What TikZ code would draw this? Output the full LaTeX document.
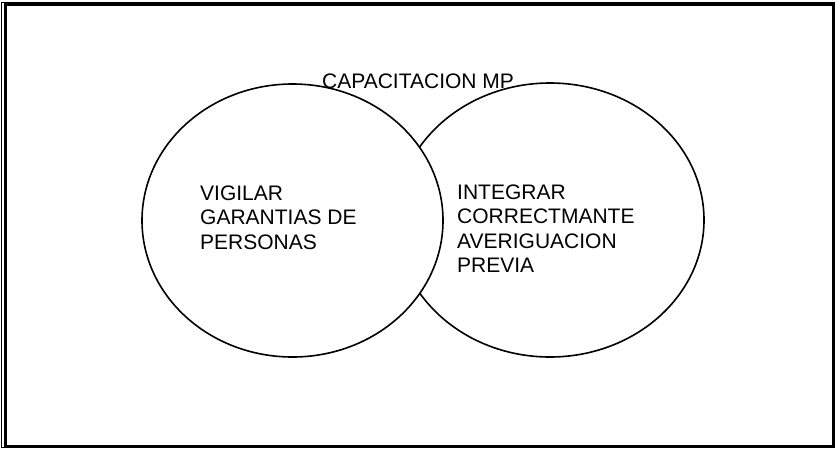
\documentclass[tikz,border=0pt]{standalone}
\usepackage{fontspec}
\setmainfont{Liberation Sans}
\usetikzlibrary{shapes.geometric}

\begin{document}
\begin{tikzpicture}[x=1pt,y=-1pt,
    circulo/.style={draw, ellipse, line width=1.6pt, fill=white, inner sep=0pt},
    texto/.style={anchor=north west, inner sep=0pt, align=left, font=\fontsize{21}{24.5}\selectfont}]
  \useasboundingbox (0,0) rectangle (835,448);
  % marco doble
  \draw[line width=1pt] (1.5,2) rectangle (834,447);
  \draw[line width=2.5pt] (5.5,4.5) rectangle (833,446.5);
  % circulos
  \node[circulo, minimum width=308pt, minimum height=274pt] (averiguacion) at (550,220) {};
  \node[circulo, minimum width=301pt, minimum height=273pt] (garantias) at (292.5,220.5) {};
  % textos
  \node[texto] (titulo) at (322,74) {CAPACITACION MP};
  \node[texto] (vigilar) at (200,185.5) {VIGILAR\\GARANTIAS DE\\PERSONAS};
  \node[texto] (integrar) at (457,184.5) {INTEGRAR\\CORRECTMANTE\\AVERIGUACION\\PREVIA};
\end{tikzpicture}
\end{document}
